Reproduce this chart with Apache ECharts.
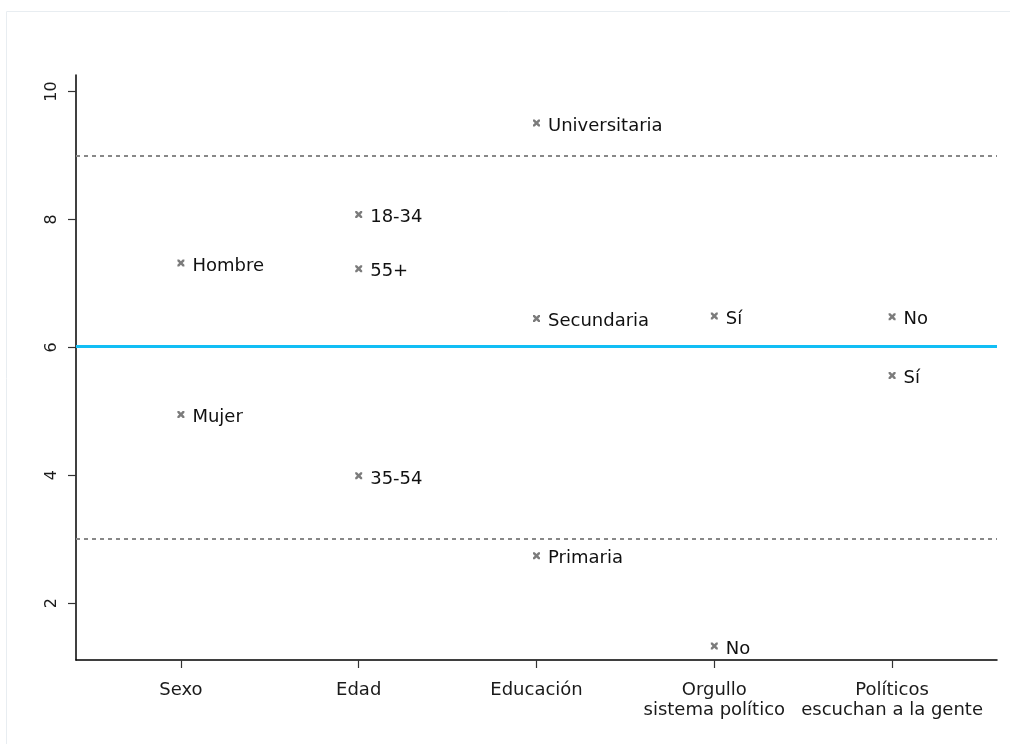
<!DOCTYPE html>
<html>
<head>
<meta charset="utf-8">
<script src="https://cdn.jsdelivr.net/npm/echarts@6/dist/echarts.min.js"></script>
<style>html,body{margin:0;padding:0;background:#fff;}#c{width:1010px;height:744px;}</style>
</head>
<body>
<div id="c"></div>
<script>
var categories = ['Sexo', 'Edad', 'Educación', 'Orgullo\nsistema político', 'Políticos\nescuchan a la gente'];
var groupIndex = [1, 1, 2, 2, 2, 3, 3, 3, 4, 4, 5, 5];
var pointLabels = ['Hombre', 'Mujer', '18-34', '55+', '35-54', 'Universitaria', 'Secundaria', 'Primaria', 'Sí', 'No', 'No', 'Sí'];
var pointValues = [7.32, 4.95, 8.08, 7.23, 3.99, 9.51, 6.45, 2.74, 6.49, 1.33, 6.48, 5.56];
var yTicks = [2, 4, 6, 8, 10];
var meanValue = 6.02;
var bandValues = [9, 3];

var chart = echarts.init(document.getElementById('c'), null, {renderer: 'canvas'});
var font = '"DejaVu Sans", sans-serif';
var data = pointValues.map(function (v, i) {
  return {value: [groupIndex[i], v], name: pointLabels[i]};
});
var xPos = categories.map(function (c, i) { return i + 1; });

chart.setOption({
  animation: false,
  graphic: [{
    type: 'rect', shape: {x: 6.5, y: 11.5, width: 1010, height: 760},
    style: {fill: 'none', stroke: '#e8edf1', lineWidth: 1}, z: -1
  }],
  grid: {left: 76, right: 13, top: 75, bottom: 84, containLabel: false},
  xAxis: {
    type: 'value', min: 0.41, max: 5.59,
    axisLine: {show: true, lineStyle: {color: '#000', width: 1.5}},
    axisTick: {show: true, customValues: xPos, length: 8, lineStyle: {color: '#333', width: 1.2}},
    axisLabel: {
      customValues: xPos, color: '#1a1a1a', fontSize: 18, fontFamily: font, margin: 20, lineHeight: 20,
      formatter: function (v) { return categories[Math.round(v) - 1] || ''; }
    },
    splitLine: {show: false}
  },
  yAxis: {
    type: 'value', min: 1.11, max: 10.26,
    axisLine: {show: true, lineStyle: {color: '#000', width: 1.5}},
    axisTick: {show: true, customValues: yTicks, length: 8, lineStyle: {color: '#333', width: 1.2}},
    axisLabel: {customValues: yTicks, color: '#1a1a1a', fontSize: 16, fontFamily: font, rotate: 90, margin: 16},
    splitLine: {show: false}
  },
  series: [{
    type: 'scatter',
    data: data,
    symbol: 'path://M0,0 L2.5,0 L5,2.5 L7.5,0 L10,0 L10,2.5 L7.5,5 L10,7.5 L10,10 L7.5,10 L5,7.5 L2.5,10 L0,10 L0,7.5 L2.5,5 L0,2.5 Z',
    symbolSize: 7,
    itemStyle: {color: '#7c7c7c', opacity: 1},
    label: {
      show: true, position: 'right', distance: 8,
      formatter: function (p) { return p.name; },
      color: '#111', fontSize: 18, fontFamily: font, offset: [0, 3], opacity: 1
    },
    markLine: {
      silent: true, symbol: 'none', label: {show: false},
      data: [
        {yAxis: meanValue, lineStyle: {color: '#12bef5', width: 3, type: 'solid'}},
        {yAxis: bandValues[0], lineStyle: {color: '#888', width: 2, type: [4, 4]}},
        {yAxis: bandValues[1], lineStyle: {color: '#888', width: 2, type: [4, 4]}}
      ]
    },
    z: 5
  }]
});
</script>
</body>
</html>
